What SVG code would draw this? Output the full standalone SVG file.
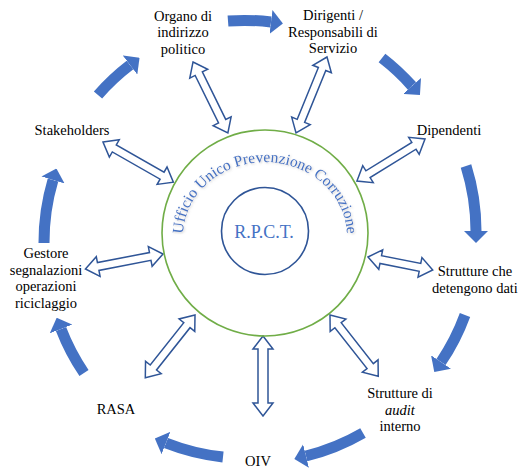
<svg xmlns="http://www.w3.org/2000/svg" width="518" height="470" viewBox="0 0 518 470">
<style>
text{font-family:"Liberation Serif","Times New Roman",serif}
.lbl{font-size:14.5px;fill:#000;text-anchor:middle}
.big{fill:none;stroke:#4472C4;stroke-width:11;marker-end:url(#head)}
.dbl{fill:#fff;stroke:#2F5597;stroke-width:1.5;stroke-linejoin:miter}
.arc{font-size:15.5px;fill:#4472C4}
</style>
<defs>
<marker id="head" markerUnits="userSpaceOnUse" viewBox="0 0 12 24" refX="0" refY="12" markerWidth="12" markerHeight="24" orient="auto">
<path d="M0,0 L12,12 L0,24 z" fill="#4472C4"/>
</marker>
<path id="arcPath" d="M 183,236 A 82,74 0 0 1 347,236"/>
<filter id="sh" x="-10%" y="-10%" width="120%" height="120%">
<feDropShadow dx="1" dy="1" stdDeviation="0.8" flood-color="#999" flood-opacity="0.5"/>
</filter>
</defs>
<rect width="518" height="470" fill="#fff"/>

<g id="connectors">
<path class="big" d="M 98,95 A 218 218 0 0 1 130,65"/>
<path class="big" d="M 228,21 A 218 218 0 0 1 271,22"/>
<path class="big" d="M 382,58 A 218 218 0 0 1 412,86"/>
<path class="big" d="M 466,166 A 218 218 0 0 1 476,231"/>
<path class="big" d="M 465,315 A 218 218 0 0 1 441,362"/>
<path class="big" d="M 363,433 A 218 218 0 0 1 306,456"/>
<path class="big" d="M 223,457 A 218 218 0 0 1 166,443"/>
<path class="big" d="M 84,373 A 218 218 0 0 1 61,329"/>
<path class="big" d="M 44,243 A 218 218 0 0 1 53,180"/>

<polygon class="dbl" transform="translate(193 62) rotate(63.8)" points="0,0 13,-10 13,-4 66,-4 66,-10 79,0 66,10 66,4 13,4 13,10"/>
<polygon class="dbl" transform="translate(327 57) rotate(112.2)" points="0,0 13,-10 13,-4 69,-4 69,-10 82,0 69,10 69,4 13,4 13,10"/>
<polygon class="dbl" transform="translate(425 139) rotate(148.3)" points="0,0 13,-10 13,-4 67,-4 67,-10 80,0 67,10 67,4 13,4 13,10"/>
<polygon class="dbl" transform="translate(368 257) rotate(11.3)" points="0,0 13,-10 13,-4 53,-4 53,-10 66,0 53,10 53,4 13,4 13,10"/>
<polygon class="dbl" transform="translate(330 315) rotate(51.8)" points="0,0 13,-10 13,-4 65,-4 65,-10 78,0 65,10 65,4 13,4 13,10"/>
<polygon class="dbl" transform="translate(263 336) rotate(90)" points="0,0 13,-10 13,-5 67,-5 67,-10 80,0 67,10 67,5 13,5 13,10"/>
<polygon class="dbl" transform="translate(195 315) rotate(128.4)" points="0,0 13,-10 13,-4 67,-4 67,-10 80,0 67,10 67,4 13,4 13,10"/>
<polygon class="dbl" transform="translate(163 254) rotate(169.1)" points="0,0 13,-10 13,-4 66,-4 66,-10 79,0 66,10 66,4 13,4 13,10"/>
<polygon class="dbl" transform="translate(103 142) rotate(29.7)" points="0,0 13,-10 13,-4 68,-4 68,-10 81,0 68,10 68,4 13,4 13,10"/>
</g>

<g id="ufficio">
<circle cx="265" cy="233" r="103" fill="none" stroke="#70AD47" stroke-width="1.6"/>
<text class="arc" font-family="Liberation Serif, serif" filter="url(#sh)"><textPath href="#arcPath" startOffset="50%" text-anchor="middle">Ufficio Unico Prevenzione Corruzione</textPath></text>
</g>

<g id="rpct">
<circle cx="265" cy="231" r="43.5" fill="none" stroke="#2F5597" stroke-width="1.6"/>
<text x="264" y="238" font-family="Liberation Serif, serif" font-size="18" fill="#4472C4" text-anchor="middle">R.P.C.T.</text>
</g>

<g id="organo"><text class="lbl" font-family="Liberation Serif, serif"><tspan x="183" y="20.5">Organo di</tspan><tspan x="183" y="37">indirizzo</tspan><tspan x="183" y="53.5">politico</tspan></text></g>
<g id="dirigenti"><text class="lbl" font-family="Liberation Serif, serif"><tspan x="333" y="20">Dirigenti /</tspan><tspan x="333" y="36.5">Responsabili di</tspan><tspan x="333" y="53">Servizio</tspan></text></g>
<g id="dipendenti"><text class="lbl" font-family="Liberation Serif, serif" x="449" y="135">Dipendenti</text></g>
<g id="strutture-dati"><text class="lbl" font-family="Liberation Serif, serif"><tspan x="475" y="276">Strutture che</tspan><tspan x="475" y="293">detengono dati</tspan></text></g>
<g id="strutture-audit"><text class="lbl" font-family="Liberation Serif, serif"><tspan x="400" y="398">Strutture di</tspan><tspan x="400" y="414.5" font-style="italic">audit</tspan><tspan x="400" y="431">interno</tspan></text></g>
<g id="oiv"><text class="lbl" font-family="Liberation Serif, serif" x="258" y="466">OIV</text></g>
<g id="rasa"><text class="lbl" font-family="Liberation Serif, serif" x="116" y="414">RASA</text></g>
<g id="gestore"><text class="lbl" font-family="Liberation Serif, serif"><tspan x="46" y="258">Gestore</tspan><tspan x="46" y="274.5">segnalazioni</tspan><tspan x="46" y="291">operazioni</tspan><tspan x="46" y="307.5">riciclaggio</tspan></text></g>
<g id="stakeholders"><text class="lbl" font-family="Liberation Serif, serif" x="72" y="135">Stakeholders</text></g>
</svg>
